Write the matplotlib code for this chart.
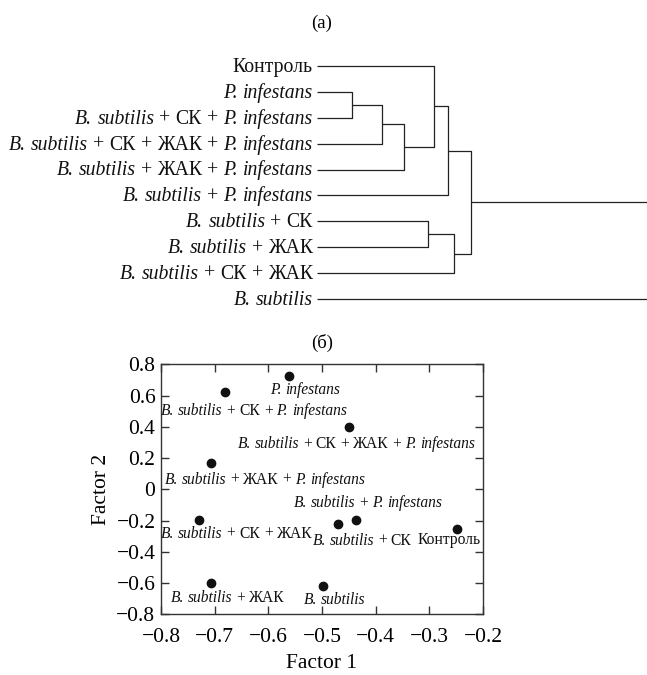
import matplotlib
matplotlib.use("Agg")
import matplotlib.pyplot as plt
import numpy as np

plt.rcParams['font.family'] = ['Liberation Serif', 'DejaVu Serif']

# ---- data ----
groups = [
    "Контроль",
    "P. infestans",
    "B. subtilis + СК + P. infestans",
    "B. subtilis + СК + ЖАК + P. infestans",
    "B. subtilis + ЖАК + P. infestans",
    "B. subtilis + P. infestans",
    "B. subtilis + СК",
    "B. subtilis + ЖАК",
    "B. subtilis + СК + ЖАК",
    "B. subtilis",
]
italic_words = {"B.", "subtilis", "P.", "infestans"}
# dendrogram linkage: (child a, child b, height); leaves 0..9, new nodes 10..
linkage = [
    (1, 2, 35),
    (10, 3, 65),
    (11, 4, 87),
    (0, 12, 117),
    (13, 5, 131),
    (6, 7, 111),
    (15, 8, 137),
    (14, 16, 154),
    (17, 9, 360),
]
factor1 = [-0.248, -0.562, -0.681, -0.449, -0.707, -0.437, -0.470, -0.707, -0.730, -0.499]
factor2 = [-0.252, 0.725, 0.625, 0.400, 0.166, -0.195, -0.222, -0.598, -0.198, -0.621]
xticks = [-0.8, -0.7, -0.6, -0.5, -0.4, -0.3, -0.2]
xticklabels = ["−0.8", "−0.7", "−0.6", "−0.5", "−0.4", "−0.3", "−0.2"]
yticks = [0.8, 0.6, 0.4, 0.2, 0.0, -0.2, -0.4, -0.6, -0.8]
yticklabels = ["0.8", "0.6", "0.4", "0.2", "0", "−0.2", "−0.4", "−0.6", "−0.8"]

# label offsets (centre of label relative to point) in pixels (layout)
label_offsets = [(-8, -11), (16, -13), (29, -19), (7, -17), (54, -16),
                 (12, 17), (24, -16), (17, -15), (38, -13), (12, -13)]

W, H = 647, 675
fig = plt.figure(figsize=(W / 100, H / 100), dpi=100)
renderer = fig.canvas.get_renderer()


def _w(s, size, style):
    t = fig.text(0, 0, s, fontsize=size, fontstyle=style)
    w = t.get_window_extent(renderer).width
    t.remove()
    return w


def rich_label(ax, text, xy, dx, dy, size, ha):
    """Draw text word by word, species names in italics."""
    words = text.split(' ')
    em = size / 0.72
    base_dy = dy - 0.30 * em
    sp = _w("| |", size, 'normal') - _w("||", size, 'normal')
    anns, adv, ink = [], [], []
    for w in words:
        st = 'italic' if w in italic_words else 'normal'
        a = ax.annotate(w, xy=xy, xytext=(0, base_dy), textcoords='offset pixels',
                        ha='left', va='baseline', fontsize=size, fontstyle=st,
                        color='#111111', annotation_clip=False)
        anns.append(a)
        adv.append(_w("|" + w + "|", size, st) - _w("||", size, st))
        ink.append(a.get_window_extent(renderer).width)
    total = sum(adv) + sp * (len(words) - 1)
    total = total - adv[-1] + ink[-1]
    x0 = dx - total if ha == 'right' else dx - total / 2
    cum = x0
    for a, wd in zip(anns, adv):
        a.xyann = (cum, base_dy)
        cum += wd + sp


# ---- (a) dendrogram ----
lc = '#222222'
axd = fig.add_axes([317 / W, 1 - 312 / H, 1 - 317 / W, 259 / H])
pos = {i: float(i) for i in range(len(groups))}
hgt = {i: 0.0 for i in range(len(groups))}
for k, (a, b, h) in enumerate(linkage):
    node = len(groups) + k
    axd.plot([hgt[a], h, h, hgt[b]], [pos[a], pos[a], pos[b], pos[b]],
             color=lc, lw=0.9, solid_capstyle='butt')
    pos[node] = (pos[a] + pos[b]) / 2
    hgt[node] = h
axd.set_xlim(0, 330)
axd.set_ylim(len(groups) - 0.5, -0.5)
axd.axis('off')
for i, g in enumerate(groups):
    rich_label(axd, g, (0, i), -4, 0, 14.2, 'right')
fig.text(322 / W, 1 - 23 / H, "(a)", ha='center', va='center', fontsize=13.5)

# ---- (б) scatter ----
ax = fig.add_axes([161 / W, 1 - 614.3 / H, 322 / W, 250 / H])
ax.scatter(factor1, factor2, s=36, color='#111111', zorder=3)
ax.set_xlim(-0.8, -0.2)
ax.set_ylim(-0.8, 0.8)
for x, y, g, (dx, dy) in zip(factor1, factor2, groups, label_offsets):
    rich_label(ax, g, (x, y), dx, dy, 11.2, 'center')
ax.set_xticks(xticks)
ax.set_xticklabels(xticklabels)
ax.set_yticks(yticks)
ax.set_yticklabels(yticklabels)
ax.tick_params(direction='in', length=6, width=1, top=True, right=True,
               labelsize=15.5, color='#333333')
ax.tick_params(axis='x', pad=10)
ax.tick_params(axis='y', pad=4)
for s in ax.spines.values():
    s.set_color('#333333')
    s.set_linewidth(1.0)
ax.set_xlabel("Factor 1", fontsize=15.5, labelpad=5)
ax.set_ylabel("Factor 2", fontsize=15.5, labelpad=4)
fig.text(322 / W, 1 - 343 / H, "(б)", ha='center', va='center', fontsize=13.5)

fig.savefig("out.png", dpi=100)
